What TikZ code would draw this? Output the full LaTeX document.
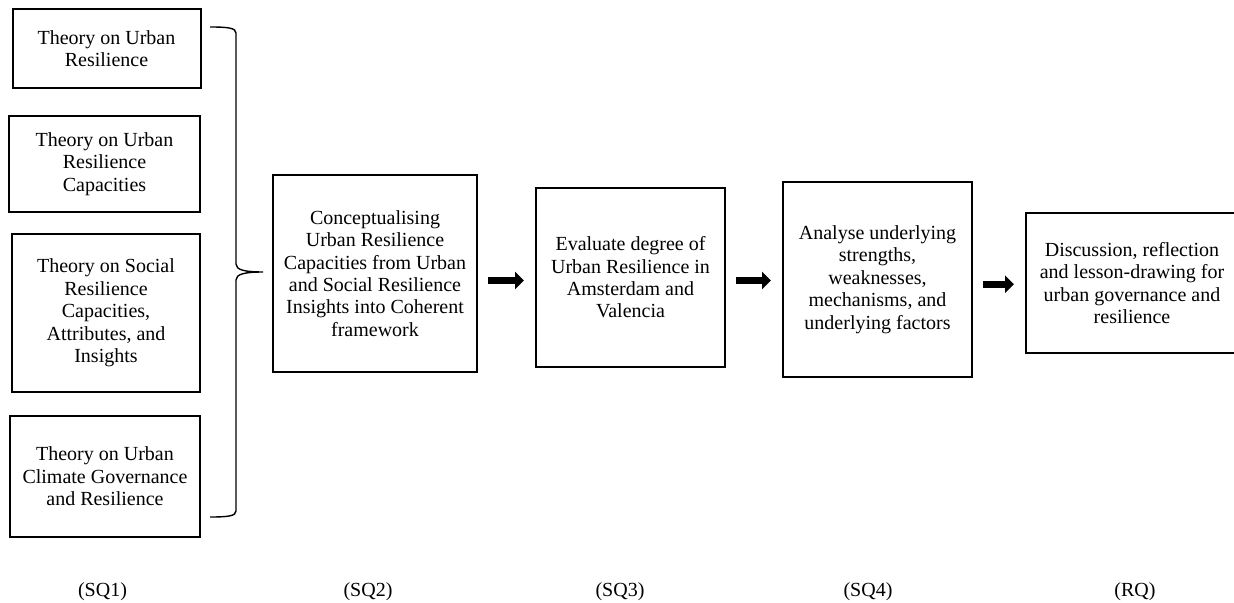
\documentclass[tikz,border=0pt]{standalone}
\usepackage{fontspec}
\setmainfont{Liberation Serif}
\usetikzlibrary{arrows.meta}

\begin{document}
\begin{tikzpicture}[x=0.5pt, y=-0.5pt,
        box/.style={draw, line width=1pt, align=center, inner sep=0pt, font=\fontsize{10}{11.2}\selectfont},
        flow/.style={line width=3.6pt, -{Triangle[length=4.5pt, width=8.5pt]}, shorten <=5pt, shorten >=5.5pt},
        sqlabel/.style={inner sep=0pt, font=\fontsize{10}{11.2}\selectfont}]
    \useasboundingbox (0,0) rectangle (1234,603);
    \node[box, minimum width=94pt, minimum height=39.5pt] (urban) at (106.5,48.5) {Theory on Urban\\Resilience};
    \node[box, minimum width=95.5pt, minimum height=48pt] (capacities) at (104.5,164) {Theory on Urban\\Resilience\\Capacities};
    \node[box, minimum width=94pt, minimum height=79pt] (social) at (106,313) {Theory on Social\\Resilience\\Capacities,\\Attributes, and\\Insights};
    \node[box, minimum width=95pt, minimum height=60.5pt] (governance) at (105,476.5) {Theory on Urban\\Climate Governance\\and Resilience};
    \draw[line width=0.7pt] (210,27) .. controls (228,27) and (236,28) .. (236,33) -- (236,264)
        .. controls (236,270) and (245,272) .. (263,272)
        .. controls (245,272) and (236,274) .. (236,280) -- (236,511)
        .. controls (236,516) and (228,517) .. (210,517);
    \node[box, minimum width=102pt, minimum height=98.5pt] (sq2) at (375,273.5) {Conceptualising\\Urban Resilience\\Capacities from Urban\\and Social Resilience\\Insights into Coherent\\framework};
    \node[box, minimum width=94.5pt, minimum height=89.5pt] (sq3) at (630.5,277.5) {Evaluate degree of\\Urban Resilience in\\Amsterdam and\\Valencia};
    \node[box, minimum width=94.5pt, minimum height=97.5pt] (sq4) at (877.5,279.5) {Analyse underlying\\strengths,\\weaknesses,\\mechanisms, and\\underlying factors};
    \node[box, minimum width=106pt, minimum height=69.75pt] (rq) at (1132,283.25) {Discussion, reflection\\and lesson-drawing for\\urban governance and\\resilience};
    \draw[flow] ([yshift=-1.5pt]sq2.east |- sq3.west) -- ([yshift=-1.5pt]sq3.west);
    \draw[flow] ([yshift=-0.5pt]sq3.east |- sq4.west) -- ([yshift=-0.5pt]sq4.west);
    \draw[flow] ([yshift=-0.5pt]sq4.east |- rq.west) -- ([yshift=-0.5pt]rq.west);
    \node[sqlabel] (lsq1) at (102.5,592) {(SQ1)};
    \node[sqlabel] (lsq2) at (368,592) {(SQ2)};
    \node[sqlabel] (lsq3) at (620,592) {(SQ3)};
    \node[sqlabel] (lsq4) at (868,592) {(SQ4)};
    \node[sqlabel] (lrq) at (1135,592) {(RQ)};
\end{tikzpicture}
\end{document}
